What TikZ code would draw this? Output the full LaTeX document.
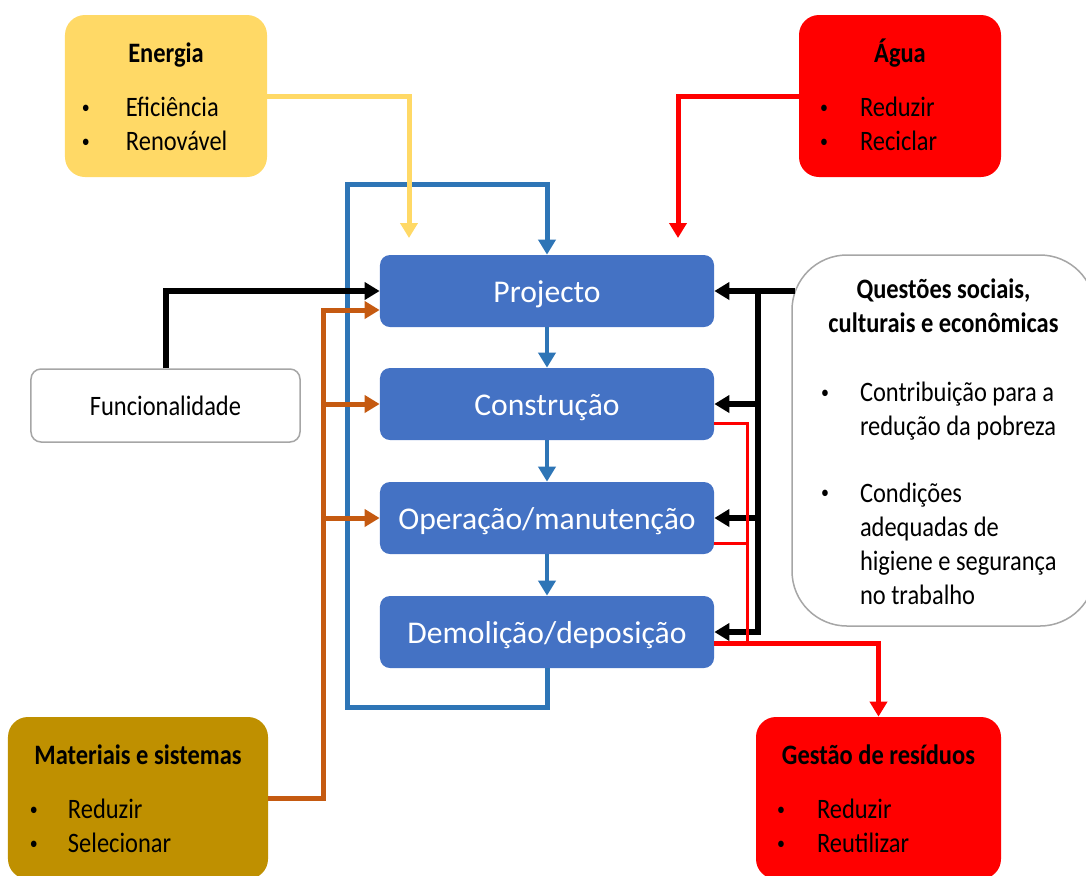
\documentclass[tikz,border=0pt]{standalone}
\usepackage{fontspec}
\usepackage{graphicx}
\setmainfont{Carlito}[FakeStretch=0.87]
\newfontfamily\stagefont{Carlito}
\usetikzlibrary{calc,arrows.meta}

\definecolor{enercol}{HTML}{FFD966}
\definecolor{matcol}{HTML}{BF9000}
\definecolor{stagecol}{HTML}{4472C4}
\definecolor{loopcol}{HTML}{2E75B6}
\definecolor{orgcol}{HTML}{C55A11}
\definecolor{edgecol}{HTML}{A6A6A6}

\newcommand{\bul}{\raisebox{0.12em}{\scalebox{0.65}{\textbullet}}}

\tikzset{
  stage/.style={fill=stagecol, rounded corners=2mm, minimum width=66.8mm,
    minimum height=14.4mm, text height=4.4mm, text depth=0mm, text=white,
    font=\stagefont\fontsize{18}{21}\selectfont},
  sidebox/.style={rounded corners=4mm, inner sep=0pt, minimum height=32.4mm,
    font=\fontsize{16}{19.3}\selectfont},
  flow/.style={-{Triangle[length=3mm,width=3.4mm]}},
  feedline/.style={line width=1mm, line join=miter},
  blkline/.style={draw=black, line width=1.2mm},
  redthin/.style={draw=red, line width=0.6mm}
}

\begin{document}
\begin{tikzpicture}[x=0.2mm, y=-0.2mm]
  \useasboundingbox (0,0) rectangle (1086,875);

  % life-cycle stages
  \node[stage] (proj) at (547,291) {Projecto};
  \node[stage] (cons) at (547,404) {Construção};
  \node[stage] (oper) at (547,518) {Operação/manutenção};
  \node[stage] (demo) at (547,632) {Demolição/deposição};

  % loop back from the last stage to the first
  \coordinate (lpbl) at (347,707);
  \coordinate (lptl) at (347,184);
  \draw[feedline, draw=loopcol, flow] (demo.south) |- (lpbl) -- (lptl) -| (proj.north);
  \foreach \a/\b in {proj/cons, cons/oper, oper/demo}
    \draw[line width=0.8mm, draw=loopcol, flow] (\a.south) -- (\b.north);

  % side boxes
  \node[sidebox, fill=enercol, minimum width=40.4mm] (ener) at (166,96) {%
    \raisebox{-0.8mm}[\height][\depth]{\begin{tabular}{@{}p{8.8mm}@{}p{24.8mm}@{}}
      \multicolumn{2}{@{}c@{}}{\textbf{Energia}}\\[11.4pt]
      \bul & Eficiência\\
      \bul & Renovável
    \end{tabular}}};
  \node[sidebox, fill=red, minimum width=40.4mm] (agua) at (900,96) {%
    \raisebox{-0.8mm}[\height][\depth]{\begin{tabular}{@{}p{8mm}@{}p{24mm}@{}}
      \multicolumn{2}{@{}c@{}}{\textbf{Água}}\\[11.4pt]
      \bul & Reduzir\\
      \bul & Reciclar
    \end{tabular}}};
  \node[sidebox, fill=matcol, minimum width=52mm] (mat) at (138,798) {%
    \raisebox{-0.8mm}[\height][\depth]{\begin{tabular}{@{}p{7.6mm}@{}p{35.6mm}@{}}
      \multicolumn{2}{@{}c@{}}{\textbf{Materiais e sistemas}}\\[11.4pt]
      \bul & Reduzir\\
      \bul & Selecionar
    \end{tabular}}};
  \node[sidebox, fill=red, minimum width=49mm] (gest) at (878.5,798) {%
    \raisebox{-0.8mm}[\height][\depth]{\begin{tabular}{@{}p{8mm}@{}p{32.6mm}@{}}
      \multicolumn{2}{@{}c@{}}{\textbf{Gestão de resíduos}}\\[11.4pt]
      \bul & Reduzir\\
      \bul & Reutilizar
    \end{tabular}}};
  \node[sidebox, draw=edgecol, fill=white, line width=0.3mm, rounded corners=11mm,
    minimum width=60.6mm, minimum height=74.2mm] (ques) at (943.5,440.5) {%
    \raisebox{-0.8mm}[\height][\depth]{\begin{tabular}{@{}p{7.8mm}@{}p{41.2mm}@{}}
      \multicolumn{2}{@{}c@{}}{\textbf{Questões sociais,}}\\
      \multicolumn{2}{@{}c@{}}{\textbf{culturais e econômicas}}\\[20pt]
      \bul & Contribuição para a\\
           & redução da pobreza\\[18.8pt]
      \bul & Condições\\
           & adequadas de\\
           & higiene e segurança\\
           & no trabalho
    \end{tabular}}};
  \node[sidebox, draw=edgecol, fill=white, line width=0.3mm, rounded corners=2mm,
    minimum width=53.8mm, minimum height=14.6mm] (func) at (165.5,405.5) {Funcionalidade};

  % energy and water
  \coordinate (enerend) at (409,238);
  \coordinate (aguaend) at (678,238);
  \draw[feedline, draw=enercol, flow] (ener.east) -| (enerend);
  \draw[feedline, draw=red, flow] (agua.west) -| (aguaend);

  % functionality
  \draw[blkline, flow] (func.north) |- (proj.west);

  % materials to the first three stages
  \coordinate (orgtop) at (323,310);
  \draw[feedline, draw=orgcol, flow] (mat.east) -| (orgtop) -- (orgtop -| proj.west);
  \draw[feedline, draw=orgcol, flow] (orgtop |- cons.west) -- (cons.west);
  \draw[feedline, draw=orgcol, flow] (orgtop |- oper.west) -- (oper.west);

  % social questions to every stage
  \coordinate (qtrunk) at (758,291);
  \draw[blkline, flow] ($(ques.west |- proj.east)+(4,0)$) -- (proj.east);
  \draw[blkline, flow] (qtrunk) |- (demo.east);
  \draw[blkline, flow] (qtrunk |- cons.east) -- (cons.east);
  \draw[blkline, flow] (qtrunk |- oper.east) -- (oper.east);

  % waste from the stages
  \coordinate (rdbot) at (747,643);
  \draw[redthin] ($(cons.east)+(0,19)$) -| (rdbot);
  \draw[redthin] ($(oper.east)+(0,25)$) -- ($(oper.east)+(33,25)$);
  \draw[feedline, draw=red, flow] ($(demo.east)+(0,11)$) -| (gest.north);
\end{tikzpicture}
\end{document}
